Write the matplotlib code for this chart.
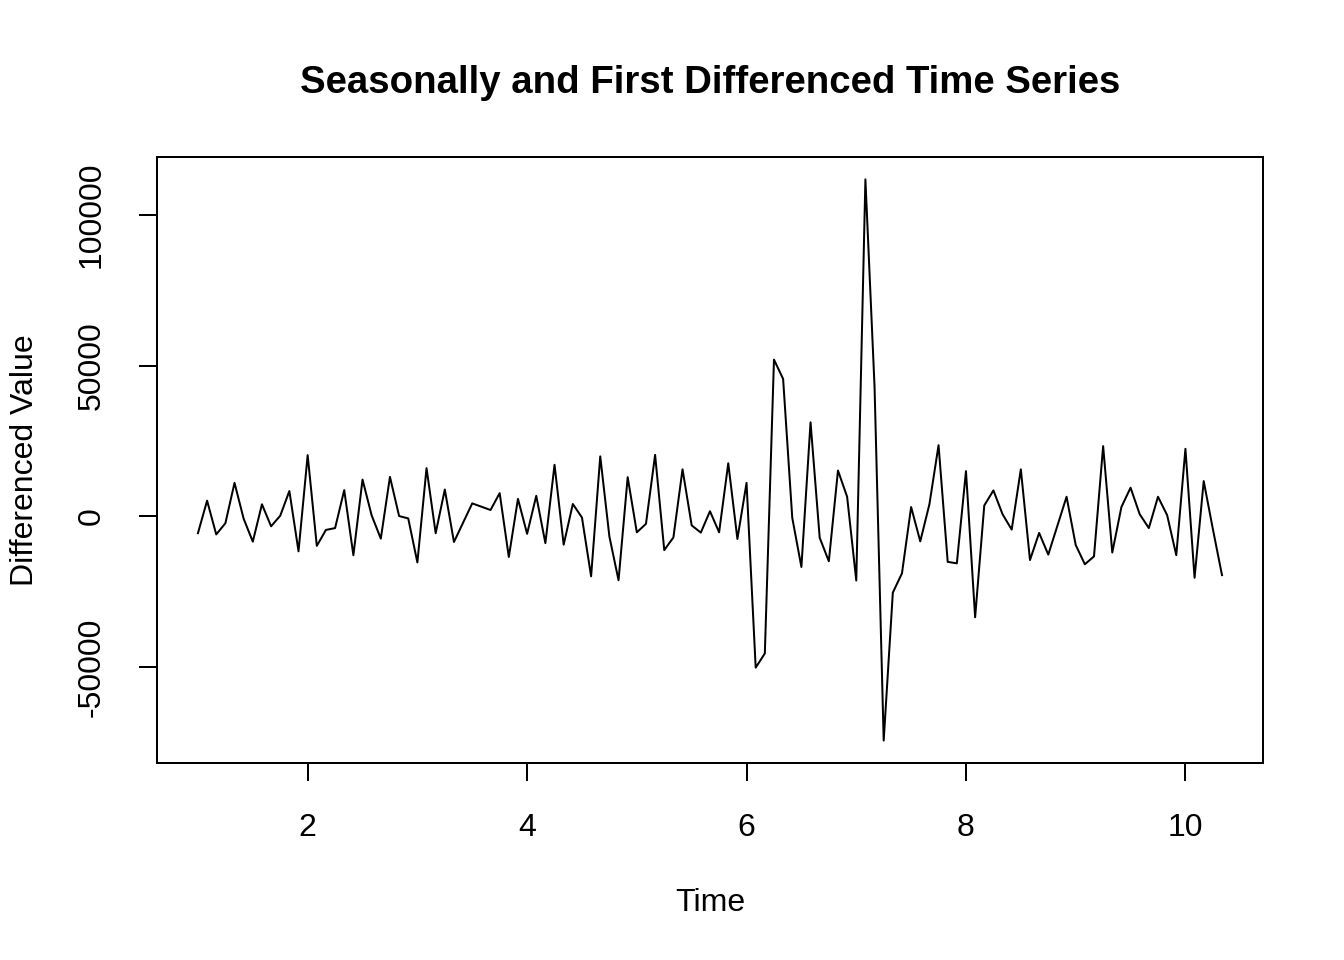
import numpy as np
import matplotlib
matplotlib.use("Agg")
import matplotlib.pyplot as plt

# -------------------------
# Data (monthly series)
# -------------------------
start_time = 1.0
frequency = 12

diff_values = [
    -5600, 5200, -6000, -2300, 11100, -800, -8400, 4000, -3300, 200,
    8400, -11600, 20300, -9800, -4500, -3900, 8700, -12900, 12200, 300,
    -7400, 13100, 100, -700, -15300, 16000, -5600, 8900,
    -8500, -2100, 4300, 3200, 2100, 7700, -13500, 5800, -5800, 6800,
    -8900, 17100, -9400, 4100, -400, -19900, 19900, -6700, -21200, 13000,
    -5300, -2500, 20400, -11200, -7000, 15600, -3000,
    -5400, 1700, -5300, 17600, -7500, 11100, -50200, -45500, 52000, 45600,
    -500, -16800, 31200, -7100, -14900, 15200, 6500, -21300, 111800, 43000,
    -74400, -25300, -18900, 3100, -8300, 4000, 23600,
    -15100, -15600, 15000, -33500, 3600, 8600, 700, -4400, 15600, -14500,
    -5500, -12700, -3100, 6500, -9500, -15900, -13300, 23300, -12000, 3100,
    9500, 700, -3900, 6500, 400, -12900, 22400, -20400, 11700, -4200,
    -19500,
]

x_ticks = [2, 4, 6, 8, 10]
y_ticks = [-50000, 0, 50000, 100000]

time = start_time + np.arange(len(diff_values)) / frequency
values = np.array(diff_values)

# -------------------------
# Style (R base graphics look)
# -------------------------
plt.rcParams['font.family'] = ['Liberation Sans', 'DejaVu Sans']
plt.rcParams['font.size'] = 12

fig = plt.figure(figsize=(7, 5), dpi=192)
ax = fig.add_axes([0.1168, 0.2052, 0.8229, 0.6313])

ax.plot(time, values, color='black', linewidth=0.75)

# R extends the range by 4% on each side
def r_limits(lo, hi):
    ext = (hi - lo) * 0.04
    return lo - ext, hi + ext

ax.set_xlim(*r_limits(time.min(), time.max()))
ax.set_ylim(*r_limits(values.min(), values.max()))

ax.set_xticks(x_ticks)
ax.set_xticklabels([str(t) for t in x_ticks])
ax.set_yticks(y_ticks)
ax.set_yticklabels([str(t) for t in y_ticks], rotation=90, va='center')

ax.tick_params(direction='out', length=6.75, width=0.75, pad=12, labelsize=12)
for s in ax.spines.values():
    s.set_linewidth(0.75)

ax.set_xlabel('Time', fontsize=12, labelpad=17)
ax.set_ylabel('Differenced Value', fontsize=12, labelpad=14)
ax.set_title('Seasonally and First Differenced Time Series',
             fontsize=14.4, fontweight='bold', pad=24)

fig.savefig('out.png', dpi=192)
